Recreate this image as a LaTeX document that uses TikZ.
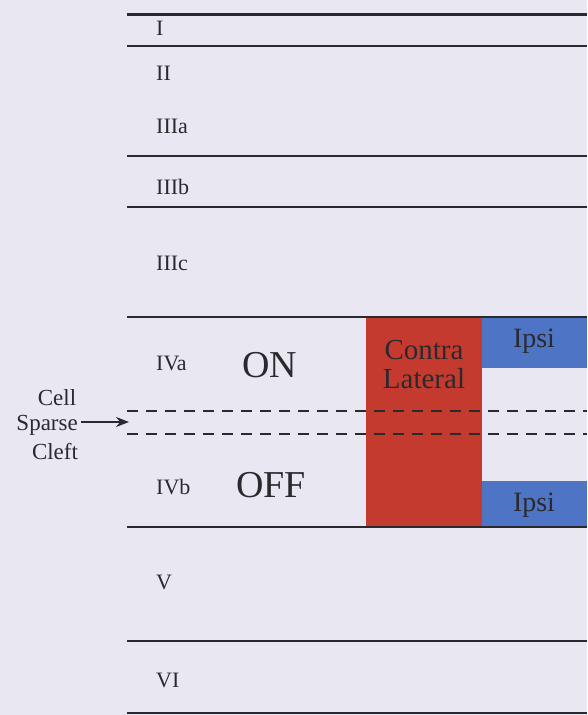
\documentclass[tikz,border=0pt]{standalone}
\usepackage{fontspec}
\setmainfont{Liberation Serif}
\usetikzlibrary{arrows.meta}
\definecolor{bg}{HTML}{E9E8F2}
\definecolor{ink}{HTML}{2A2A2E}
\definecolor{contrared}{HTML}{C43A2E}
\definecolor{ipsiblue}{HTML}{4E74C6}
\tikzset{
  layerline/.style={draw=ink, line width=2.4pt},
  sparseline/.style={draw=ink, line width=2.4pt, dash pattern=on 11pt off 8pt},
  layerlabel/.style={font=\fontsize{22}{25}\selectfont, text=ink, anchor=west, inner sep=0pt},
  bigword/.style={font=\fontsize{38}{42}\selectfont, text=ink, inner sep=0pt},
  boxword/.style={font=\fontsize{29}{32}\selectfont, text=ink, inner sep=0pt, align=center},
  ipsiword/.style={font=\fontsize{28}{32}\selectfont, text=ink, inner sep=0pt},
  sidelabel/.style={font=\fontsize{23}{26}\selectfont, text=ink, inner sep=0pt},
}
\begin{document}
\begin{tikzpicture}[x=1pt,y=-1pt]
\fill[bg] (0,0) rectangle (587,715);
\useasboundingbox (0,0) rectangle (587,715);

% coloured columns
\fill[contrared] (366,318) rectangle (482,527);
\fill[ipsiblue] (482,318) rectangle (587,368);
\fill[ipsiblue] (482,481) rectangle (587,527);

% layer boundaries
\draw[layerline, line width=3pt] (127,14) -- (587,14);
\draw[layerline] (127,46) -- (587,46);
\draw[layerline] (127,156) -- (587,156);
\draw[layerline] (127,207) -- (587,207);
\draw[layerline] (127,317) -- (587,317);
\draw[layerline] (127,527) -- (587,527);
\draw[layerline] (127,641) -- (587,641);
\draw[layerline] (127,713) -- (587,713);

% sparse cell cleft
\draw[sparseline] (127,411) -- (587,411);
\draw[sparseline] (127,434) -- (587,434);
\coordinate (cleftmid) at (129,422);
\coordinate (arrowstart) at (81,422);

% layer labels
\node[layerlabel] (lI) at (156,28) {I};
\node[layerlabel] (lII) at (156,73) {II};
\node[layerlabel] (lIIIa) at (156,126) {IIIa};
\node[layerlabel] (lIIIb) at (156,187) {IIIb};
\node[layerlabel] (lIIIc) at (156,263) {IIIc};
\node[layerlabel] (lIVa) at (156,363) {IVa};
\node[layerlabel] (lIVb) at (156,487) {IVb};
\node[layerlabel] (lV) at (156,582) {V};
\node[layerlabel] (lVI) at (156,680) {VI};

\node[bigword] (on) at (270,365) {ON};
\node[bigword] (off) at (271,485) {OFF};

\node[boxword] (contra) at (424,365) {Contra\\[-3pt]Lateral};
\node[ipsiword] (ipsitop) at (534,341) {Ipsi};
\node[ipsiword] (ipsibot) at (534,505) {Ipsi};

% side labels
\node[sidelabel] (cell) at (57,398) {Cell};
\node[sidelabel, anchor=east] (sparse) at (78,425) {Sparse};
\node[sidelabel] (cleft) at (55,452) {Cleft};
\draw[ink, line width=1.4pt, -{Stealth[length=13pt,width=10pt]}] (arrowstart) -- (cleftmid);
\end{tikzpicture}
\end{document}
